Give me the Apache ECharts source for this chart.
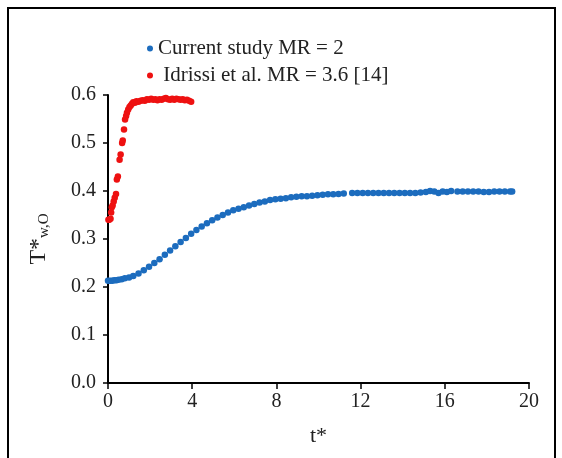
<!DOCTYPE html>
<html>
<head>
<meta charset="utf-8">
<script src="https://cdn.jsdelivr.net/npm/echarts@6/dist/echarts.min.js"></script>
<style>
html, body { margin: 0; padding: 0; background: #fff; }
#chart { width: 562px; height: 458px; }
</style>
</head>
<body>
<div id="chart"></div>
<script>
// current study MR = 2
var currentT = [0.0, 0.1, 0.2, 0.3, 0.4, 0.5, 0.65, 0.8, 1.0, 1.2, 1.45, 1.7, 1.95, 2.2, 2.45, 2.7, 2.95, 3.2, 3.45, 3.7,
    3.95, 4.2, 4.45, 4.7, 4.95, 5.2, 5.45, 5.7, 5.95, 6.2, 6.45, 6.7, 6.95, 7.2, 7.45, 7.7, 7.95, 8.2, 8.45, 8.7,
    8.95, 9.2, 9.45, 9.7, 9.95, 10.2, 10.45, 10.7, 10.95, 11.2, 11.6, 11.85, 12.1, 12.35, 12.6, 12.85, 13.1, 13.35, 13.6, 13.85,
    14.1, 14.35, 14.6, 14.85, 15.1, 15.3, 15.5, 15.7, 15.9, 16.1, 16.3, 16.6, 16.85, 17.1, 17.35, 17.6, 17.85, 18.1, 18.35, 18.6,
    18.85, 19.1, 19.2];
var currentT_wo = [0.213, 0.213, 0.213, 0.214, 0.214, 0.215, 0.216, 0.218, 0.220, 0.223, 0.228, 0.235, 0.242, 0.250, 0.258, 0.267, 0.276, 0.285, 0.294, 0.302,
    0.311, 0.319, 0.326, 0.333, 0.339, 0.345, 0.350, 0.355, 0.360, 0.363, 0.366, 0.370, 0.373, 0.376, 0.378, 0.381, 0.383, 0.384, 0.385, 0.387,
    0.388, 0.389, 0.389, 0.390, 0.391, 0.392, 0.393, 0.393, 0.394, 0.395, 0.396, 0.396, 0.396, 0.396, 0.396, 0.396, 0.396, 0.396, 0.396, 0.396,
    0.396, 0.396, 0.396, 0.397, 0.398, 0.400, 0.399, 0.396, 0.399, 0.398, 0.400, 0.399, 0.399, 0.399, 0.399, 0.399, 0.398, 0.398, 0.399, 0.399,
    0.399, 0.399, 0.399];

// Idrissi et al. MR = 3.6 [14]
var idrissiT = [0.02, 0.06, 0.12, 0.15, 0.18, 0.22, 0.27, 0.32, 0.38, 0.42, 0.47, 0.55, 0.6, 0.67, 0.7, 0.76, 0.81, 0.86, 0.9, 0.96,
    1.02, 1.08, 1.14, 1.2, 1.28, 1.35, 1.45, 1.55, 1.65, 1.75, 1.85, 1.95, 2.05, 2.15, 2.25, 2.35, 2.45, 2.55, 2.65, 2.75,
    2.85, 2.95, 3.05, 3.15, 3.25, 3.35, 3.45, 3.55, 3.65, 3.75, 3.85, 3.95];
var idrissiT_wo = [0.340, 0.340, 0.342, 0.355, 0.366, 0.370, 0.378, 0.386, 0.394, 0.424, 0.430, 0.465, 0.476, 0.500, 0.505, 0.528, 0.549, 0.556, 0.563, 0.570,
    0.575, 0.578, 0.582, 0.585, 0.584, 0.587, 0.586, 0.588, 0.589, 0.588, 0.591, 0.590, 0.592, 0.590, 0.591, 0.589, 0.591, 0.590, 0.592, 0.594,
    0.591, 0.590, 0.592, 0.590, 0.592, 0.591, 0.590, 0.591, 0.589, 0.590, 0.588, 0.586];

function pairs(xs, ys) {
    var out = [];
    for (var i = 0; i < xs.length; i++) {
        out.push([xs[i], ys[i]]);
    }
    return out;
}

var font = '"Liberation Serif", "Times New Roman", serif';
var chart = echarts.init(document.getElementById('chart'));

var option = {
    animation: false,
    backgroundColor: '#fff',
    textStyle: { fontFamily: font, color: '#222' },
    graphic: [{
        type: 'rect',
        shape: { x: 8, y: 8, width: 547, height: 470 },
        style: { fill: 'none', stroke: '#000', lineWidth: 2 },
        silent: true
    }],
    legend: {
        orient: 'vertical',
        left: 142,
        top: 33,
        itemGap: 6,
        itemWidth: 6,
        itemHeight: 6,
        icon: 'circle',
        textStyle: { fontFamily: font, fontSize: 21, color: '#222' },
        data: ['Current study MR = 2', ' Idrissi et al. MR = 3.6 [14]']
    },
    grid: {
        left: 108,
        right: 33,
        top: 95,
        bottom: 75
    },
    xAxis: {
        type: 'value',
        min: 0,
        max: 20,
        interval: 4,
        name: 't*',
        nameLocation: 'middle',
        nameGap: 42,
        nameTextStyle: { fontFamily: font, fontSize: 22, color: '#222' },
        axisLine: { lineStyle: { color: '#000', width: 2 } },
        axisTick: { show: true, length: 6, lineStyle: { color: '#000', width: 1.5 } },
        axisLabel: { fontFamily: font, fontSize: 20, color: '#222', margin: 9 },
        splitLine: { show: false }
    },
    yAxis: {
        type: 'value',
        min: 0,
        max: 0.6,
        interval: 0.1,
        name: '{t|T*}{s|w,O}',
        nameLocation: 'middle',
        nameRotate: 90,
        nameGap: 56,
        nameTextStyle: {
            rich: {
                t: { fontFamily: font, fontSize: 24, color: '#222' },
                s: { fontFamily: font, fontSize: 15, color: '#222', verticalAlign: 'bottom', padding: [12, 0, 0, 0] }
            }
        },
        axisLine: { show: true, lineStyle: { color: '#000', width: 2 } },
        axisTick: { show: true, length: 5, lineStyle: { color: '#000', width: 1.5 } },
        axisLabel: {
            fontFamily: font, fontSize: 20, color: '#222', margin: 12,
            formatter: function (v) { return v.toFixed(1); }
        },
        splitLine: { show: false }
    },
    series: [
        {
            name: 'Current study MR = 2',
            type: 'scatter',
            symbolSize: 6.5,
            itemStyle: { color: '#1c6cbe', opacity: 1 },
            data: pairs(currentT, currentT_wo)
        },
        {
            name: ' Idrissi et al. MR = 3.6 [14]',
            type: 'scatter',
            symbolSize: 6.5,
            itemStyle: { color: '#ee1111', opacity: 1 },
            data: pairs(idrissiT, idrissiT_wo)
        }
    ]
};

chart.setOption(option);
</script>
</body>
</html>
